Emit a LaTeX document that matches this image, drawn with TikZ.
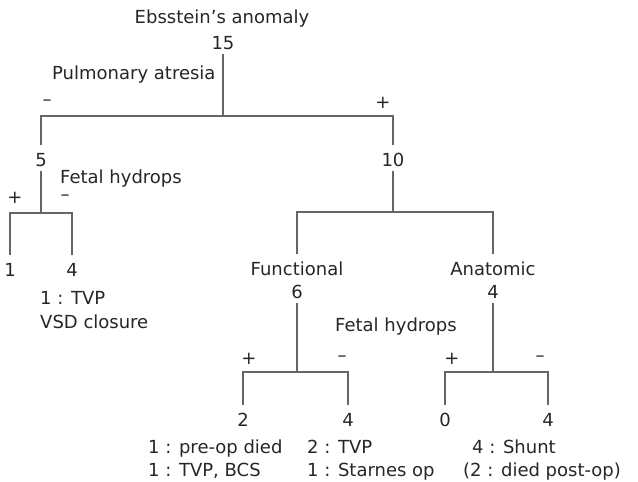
\documentclass[tikz,border=0pt]{standalone}
\usepackage{fontspec}
\setmainfont{DejaVu Sans}
\usepackage{tikz}

\tikzset{
  num/.style={anchor=base, inner xsep=1pt, inner ysep=4pt, text height=17pt, text depth=0pt},
  txt/.style={anchor=base west, inner sep=0pt},
  sign/.style={inner sep=0pt},
  branch/.style={draw=black!60, line width=1.2pt}
}

\begin{document}
\begin{tikzpicture}[x=1pt, y=-1pt]
\useasboundingbox (0,0) rectangle (638,482);
\begin{scope}[every node/.style={font=\fontsize{18pt}{22pt}\selectfont, text=black!85}]
\node[anchor=base, inner sep=0pt] (title) at (222,23.5) {Ebsstein’s anomaly};
\node[num] (n15) at (223,49.5) {15};
\node[txt] (pa) at (52,79) {Pulmonary atresia};
\node[sign] (m1) at (47,103) {–};
\node[sign] (p1) at (383,103) {+};
\coordinate (j1) at (223,116);

\node[num] (n5) at (41,166.5) {5};
\node[num] (n10) at (393,166.5) {10};

\node[txt] (fh1) at (60,183) {Fetal hydrops};
\node[sign] (p2) at (15,198) {+};
\node[sign] (m2) at (65,198) {–};
\coordinate (j2) at (41,213);
\node[num] (n1) at (10,276.5) {1};
\node[num] (n4a) at (72,276.5) {4};
\node[txt] (tvp1) at (40,304.5) {1 : TVP};
\node[txt] (vsd) at (40,328.5) {VSD closure};

\coordinate (j3) at (393,212);
\node[num] (fun) at (297,275.5) {Functional};
\node[num] (ana) at (493,275.5) {Anatomic};
\node[num] (n6) at (297,298.5) {6};
\node[num] (n4b) at (493,298.5) {4};

\node[txt] (fh2) at (335,331) {Fetal hydrops};
\node[sign] (p3) at (249,359) {+};
\node[sign] (m3) at (342,359) {–};
\node[sign] (p4) at (452,359) {+};
\node[sign] (m4) at (540,359) {–};
\coordinate (j4) at (297,372);
\coordinate (j5) at (493,372);

\node[num] (n2) at (243,426.5) {2};
\node[num] (n4c) at (348,426.5) {4};
\node[num] (n0) at (445,426.5) {0};
\node[num] (n4d) at (548,426.5) {4};

\node[txt] (died) at (148,453.5) {1 : pre-op died};
\node[txt] (bcs) at (148,476.5) {1 : TVP, BCS};
\node[txt] (tvp2) at (307,453.5) {2 : TVP};
\node[txt] (starnes) at (307,476.5) {1 : Starnes op};
\node[txt] (shunt) at (472,453.5) {4 : Shunt};
\node[txt] (post) at (463,476.5) {(2 : died post-op)};

\draw[branch] (n15) -- (j1);
\draw[branch] (j1) -| (n5);
\draw[branch] (j1) -| (n10);

\draw[branch] (n5) -- (j2);
\draw[branch] (j2) -| (n1);
\draw[branch] (j2) -| (n4a);

\draw[branch] (n10) -- (j3);
\draw[branch] (j3) -| (fun);
\draw[branch] (j3) -| (ana);

\draw[branch] (n6) -- (j4);
\draw[branch] (j4) -| (n2);
\draw[branch] (j4) -| (n4c);

\draw[branch] (n4b) -- (j5);
\draw[branch] (j5) -| (n0);
\draw[branch] (j5) -| (n4d);
\end{scope}
\end{tikzpicture}
\end{document}
